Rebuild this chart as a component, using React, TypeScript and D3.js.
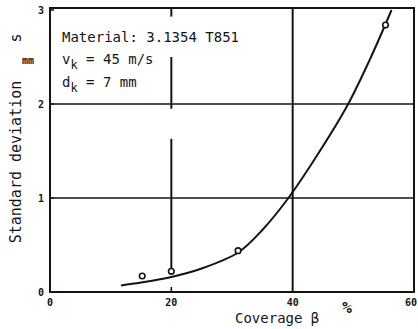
import React, { useRef, useEffect } from "react";
import * as d3 from "d3";

// measured points (coverage %, standard deviation mm)
const pointX = [15.2, 20, 31, 55.3];
const pointY = [0.17, 0.22, 0.44, 2.84];

// fitted curve
const curveX = [11.7, 15, 20, 25, 31, 35, 39.3, 43.8, 48.9, 52.7, 56.3];
const curveY = [0.07, 0.1, 0.16, 0.25, 0.42, 0.66, 1.0, 1.43, 1.97, 2.47, 3.0];

const xTicks = [0, 20, 40, 60];
const yTicks = [0, 1, 2, 3];
const xGrid = [40];
const yGrid = [1, 2];

const W = 418;
const H = 329;
const INK = "#141414";

const App = () => {
    const ref = useRef<SVGSVGElement>(null);

    useEffect(() => {
        const svg = d3.select(ref.current);
        svg.selectAll("*").remove();

        const x = d3.scaleLinear().domain([0, 60]).range([50, 414]);
        const y = d3.scaleLinear().domain([0, 3]).range([292, 10]);

        svg.append("rect").attr("width", W).attr("height", H).attr("fill", "#fff");

        // grid
        const g = svg.append("g").attr("stroke", INK).attr("stroke-width", 1.6);
        yGrid.forEach((v) => {
            g.append("line")
                .attr("x1", x(0)).attr("x2", x(60))
                .attr("y1", y(v)).attr("y2", y(v));
        });
        xGrid.forEach((v) => {
            g.append("line")
                .attr("x1", x(v)).attr("x2", x(v))
                .attr("y1", y(0)).attr("y2", y(3) - 2)
                .attr("stroke-width", 2);
        });
        // the 20% line is broken in the original
        [[0.23, 1.63], [1.95, 2.5], [2.93, 3.02]].forEach(([a, b]) => {
            g.append("line")
                .attr("x1", x(20)).attr("x2", x(20))
                .attr("y1", y(a)).attr("y2", y(b))
                .attr("stroke-width", 2);
        });
        g.append("line")
            .attr("x1", x(20)).attr("x2", x(20))
            .attr("y1", y(0)).attr("y2", y(0) - 5);

        // frame
        svg.append("rect")
            .attr("x", x(0)).attr("y", y(3) - 2)
            .attr("width", x(60) - x(0)).attr("height", y(0) - y(3) + 2)
            .attr("fill", "none").attr("stroke", INK).attr("stroke-width", 2);

        // left axis small ticks
        yTicks.forEach((v) => {
            svg.append("line")
                .attr("x1", x(0)).attr("x2", x(0) + 4)
                .attr("y1", y(v)).attr("y2", y(v))
                .attr("stroke", INK).attr("stroke-width", 1.5);
        });

        // curve
        const pts = curveX.map((d, i) => [d, curveY[i]] as [number, number]);
        const line = d3.line<[number, number]>()
            .x((d) => x(d[0]))
            .y((d) => y(d[1]))
            .curve(d3.curveCatmullRom.alpha(0.5));
        svg.append("path")
            .datum(pts)
            .attr("d", line)
            .attr("fill", "none")
            .attr("stroke", INK)
            .attr("stroke-width", 2);

        // markers
        svg.selectAll("circle.pt")
            .data(pointX)
            .enter()
            .append("circle")
            .attr("class", "pt")
            .attr("cx", (d) => x(d))
            .attr("cy", (d, i) => y(pointY[i]))
            .attr("r", 2.8)
            .attr("fill", "#fff")
            .attr("stroke", INK)
            .attr("stroke-width", 1.6);

        const font = "'DejaVu Sans Mono', monospace";

        // tick labels
        svg.selectAll("text.xt")
            .data(xTicks)
            .enter()
            .append("text")
            .attr("x", (d) => Math.min(x(d), 411))
            .attr("y", 306)
            .attr("text-anchor", "middle")
            .style("font-family", font)
            .style("font-weight", "bold")
            .style("font-size", "10px")
            .attr("fill", INK)
            .text((d) => d);
        svg.selectAll("text.yt")
            .data(yTicks)
            .enter()
            .append("text")
            .attr("x", 41)
            .attr("y", (d) => y(d) + 4)
            .attr("text-anchor", "middle")
            .style("font-family", font)
            .style("font-weight", "bold")
            .style("font-size", "10px")
            .attr("fill", INK)
            .text((d) => d);

        // axis titles
        svg.append("text")
            .attr("transform", `translate(21,162) rotate(-90)`)
            .attr("text-anchor", "middle")
            .style("font-family", font)
            .style("font-size", "15px")
            .attr("fill", INK)
            .text("Standard deviation");
        svg.append("text")
            .attr("transform", `translate(21,38) rotate(-90)`)
            .attr("text-anchor", "middle")
            .style("font-family", font)
            .style("font-size", "15px")
            .attr("fill", INK)
            .text("s");
        svg.append("text")
            .attr("x", 28).attr("y", 64)
            .attr("text-anchor", "middle")
            .style("font-family", font)
            .style("font-weight", "bold")
            .style("font-size", "10px")
            .attr("fill", INK)
            .text("mm");
        svg.append("text")
            .attr("x", 235).attr("y", 323)
            .style("font-family", font)
            .style("font-size", "14px")
            .attr("fill", INK)
            .text("Coverage β");
        svg.append("text")
            .attr("x", 347).attr("y", 313)
            .attr("text-anchor", "middle")
            .style("font-family", font)
            .style("font-weight", "bold")
            .style("font-size", "16px")
            .attr("fill", INK)
            .text("%");

        // annotation
        svg.append("rect")
            .attr("x", 60).attr("y", 24).attr("width", 182).attr("height", 28)
            .attr("fill", "#fff");
        const ann = svg.append("g")
            .style("font-family", font)
            .style("font-size", "14px")
            .attr("fill", INK);
        ann.append("text").attr("x", 62).attr("y", 42).text("Material: 3.1354 T851");
        const v = ann.append("text").attr("x", 62).attr("y", 64);
        v.append("tspan").text("v");
        v.append("tspan").attr("dy", 5).style("font-size", "12px").text("k");
        v.append("tspan").attr("dy", -5).text(" = 45 m/s");
        const dk = ann.append("text").attr("x", 62).attr("y", 87);
        dk.append("tspan").text("d");
        dk.append("tspan").attr("dy", 5).style("font-size", "12px").text("k");
        dk.append("tspan").attr("dy", -5).text(" = 7 mm");
    }, []);

    return (
        <svg
            ref={ref}
            width={W}
            height={H}
            style={{ display: "block", position: "absolute", left: 0, top: 0 }}
        />
    );
};

export default App;
